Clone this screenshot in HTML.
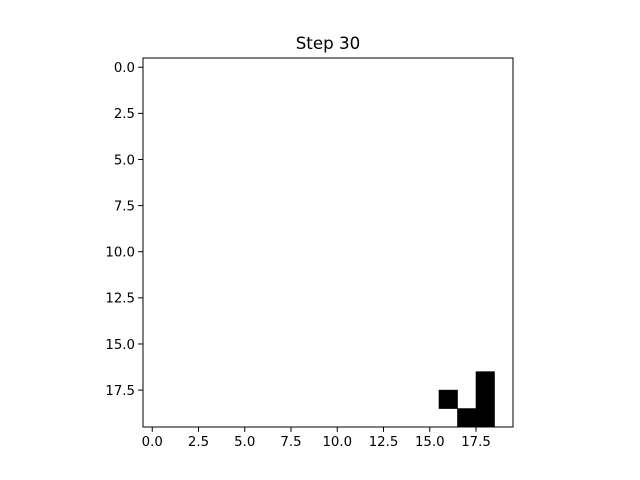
<!DOCTYPE html>
<html><head><meta charset="utf-8"><style>
body{margin:0;background:#fff;}
svg{display:block;font-family:"DejaVu Sans","Liberation Sans",sans-serif;}
</style></head><body>
<svg id="chart" width="640" height="480">
<text x="328" y="49" font-size="16.7" text-anchor="middle">Step 30</text>
<g id="cells"></g>
<rect x="143" y="58" width="370" height="369" fill="none" stroke="#000" stroke-width="1"/>
<g id="xticks"></g>
<g id="yticks"></g>
</svg>
<script>
const gridSize = 20;
const blackRows = [18, 19, 19, 18, 17];
const blackCols = [16, 17, 18, 18, 18];
const tickValues = [0, 2.5, 5, 7.5, 10, 12.5, 15, 17.5];
const tickLabels = ["0.0","2.5","5.0","7.5","10.0","12.5","15.0","17.5"];
const NS = "http://www.w3.org/2000/svg";
const L=143,R=513,T=58,B=427;
const sx = v => L + (v + 0.5) * (R - L) / gridSize;
const sy = v => T + (v + 0.5) * (B - T) / gridSize;
const cells = document.getElementById('cells');
for (let i = 0; i < blackRows.length; i++) {
  const r = document.createElementNS(NS, 'rect');
  r.setAttribute('x', sx(blackCols[i] - 0.5));
  r.setAttribute('y', sy(blackRows[i] - 0.5));
  r.setAttribute('width', (R - L) / gridSize);
  r.setAttribute('height', (B - T) / gridSize);
  r.setAttribute('fill', '#000');
  r.setAttribute('stroke', '#000');
  r.setAttribute('stroke-width', '0.6');
  
  
  cells.appendChild(r);
}
const xg = document.getElementById('xticks'), yg = document.getElementById('yticks');
tickValues.forEach((v, i) => {
  const x = sx(v);
  const l = document.createElementNS(NS, 'line');
  l.setAttribute('x1', x); l.setAttribute('x2', x); l.setAttribute('y1', B); l.setAttribute('y2', B + 4.9);
  l.setAttribute('stroke', '#000');
  
  
  xg.appendChild(l);
  const t = document.createElementNS(NS, 'text');
  t.setAttribute('x', x); t.setAttribute('y', B + 19); t.setAttribute('font-size', '13.3');
  t.setAttribute('text-anchor', 'middle'); t.textContent = tickLabels[i];
  
  
  xg.appendChild(t);
  const y = sy(v);
  const l2 = document.createElementNS(NS, 'line');
  l2.setAttribute('x1', L - 4.9); l2.setAttribute('x2', L); l2.setAttribute('y1', y); l2.setAttribute('y2', y);
  l2.setAttribute('stroke', '#000');
  
  
  yg.appendChild(l2);
  const t2 = document.createElementNS(NS, 'text');
  t2.setAttribute('x', L - 8); t2.setAttribute('y', y + 4.8); t2.setAttribute('font-size', '13.3');
  t2.setAttribute('text-anchor', 'end'); t2.textContent = tickLabels[i];
  
  
  yg.appendChild(t2);
});
</script>
</body></html>
